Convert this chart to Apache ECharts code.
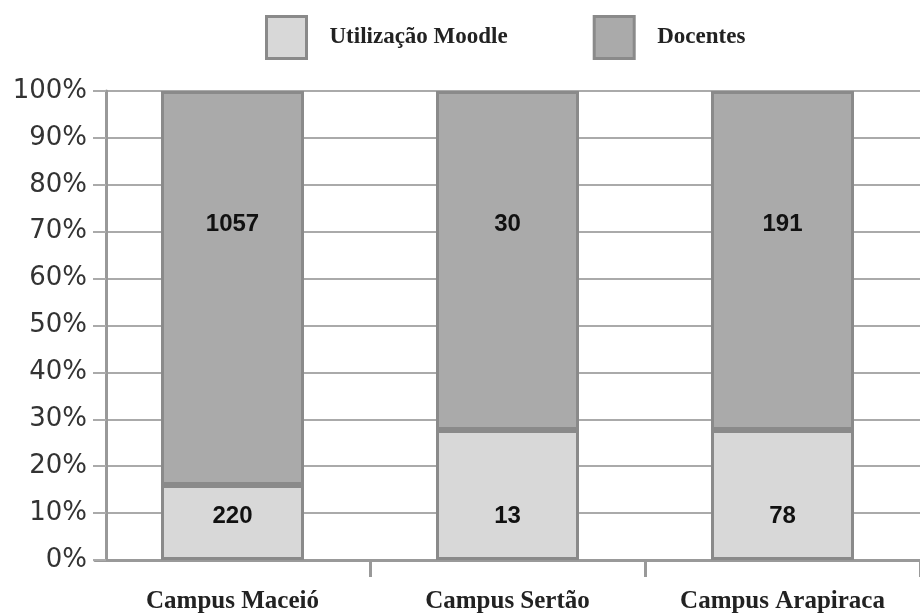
<!DOCTYPE html>
<html>
<head>
<meta charset="utf-8">
<script src="https://cdn.jsdelivr.net/npm/echarts@6/dist/echarts.min.js"></script>
<style>html,body{margin:0;padding:0;background:#fff}#c{width:920px;height:614px}</style>
</head>
<body>
<div id="c"></div>
<script>
var categories = ['Campus Maceió', 'Campus Sertão', 'Campus Arapiraca'];
var seriesNames = ['Utilização Moodle', 'Docentes'];
// share of each bar (percent)
var moodleShare = [16.0, 27.7, 27.7];
var docentesShare = [84.0, 72.3, 72.3];
// counts written on the bars
var moodleCounts = [220, 13, 78];
var docentesCounts = [1057, 30, 191];

var chart = echarts.init(document.getElementById('c'), null, {renderer: 'canvas'});
var borderC = '#8a8a8a';
var labelStyle = {
  show: true, color: '#111', fontFamily: 'Liberation Sans', fontWeight: 'bold', fontSize: 24
};
chart.setOption({
  animation: false,
  backgroundColor: '#fff',
  legend: {
    left: 265, top: 15, padding: 0,
    itemWidth: 40, itemHeight: 42, itemGap: 85,
    icon: 'rect',
    data: seriesNames,
    itemStyle: {borderColor: borderC, borderWidth: 3},
    textStyle: {fontFamily: 'Liberation Serif', fontWeight: 'bold', fontSize: 23, color: '#222', padding: [0, 0, 0, 18]}
  },
  grid: {left: 95, right: -8, top: 91, bottom: 53},
  xAxis: {
    type: 'category', data: categories,
    axisLine: {lineStyle: {color: '#999', width: 3}},
    axisTick: {show: true, length: 17, interval: function (i) { return i !== 0; }, lineStyle: {color: '#999', width: 3}},
    axisLabel: {margin: 29, fontFamily: 'Liberation Serif', fontWeight: 'bold', fontSize: 25, color: '#222'}
  },
  yAxis: {
    type: 'value', min: 0, max: 100, interval: 10, offset: -11,
    axisLine: {show: true, lineStyle: {color: '#999', width: 3}},
    axisTick: {show: true, length: 13, lineStyle: {color: '#aaa', width: 2}},
    axisLabel: {formatter: '{value}%', margin: 19, fontFamily: 'DejaVu Sans', fontSize: 26, color: '#333'},
    splitLine: {show: true, lineStyle: {color: '#aaa', width: 2}}
  },
  series: [
    {
      name: seriesNames[0], type: 'bar', stack: 'a', barWidth: 143,
      data: moodleShare,
      itemStyle: {color: '#d8d8d8', borderColor: borderC, borderWidth: 3},
      label: Object.assign({}, labelStyle, {
        position: 'insideBottom', distance: 32,
        formatter: function (p) { return moodleCounts[p.dataIndex]; }
      })
    },
    {
      name: seriesNames[1], type: 'bar', stack: 'a', barWidth: 143,
      data: docentesShare,
      itemStyle: {color: '#aaaaaa', borderColor: borderC, borderWidth: 3},
      label: Object.assign({}, labelStyle, {
        position: 'insideTop', distance: 121,
        formatter: function (p) { return docentesCounts[p.dataIndex]; }
      })
    }
  ]
});
</script>
</body>
</html>
